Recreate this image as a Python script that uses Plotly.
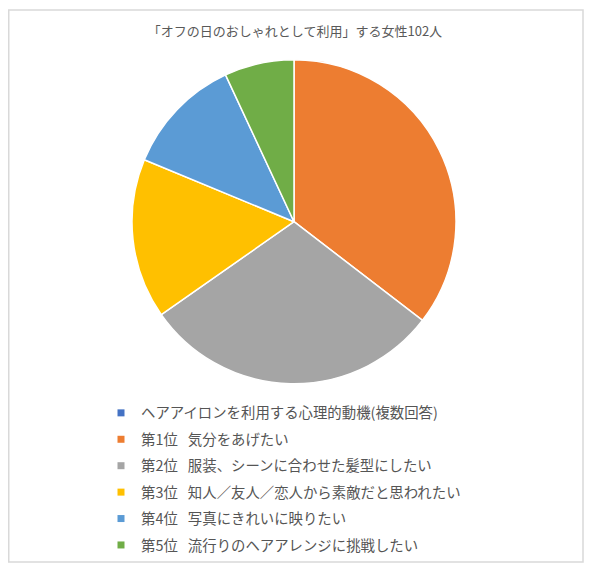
import plotly.graph_objects as go

# 凡例の並び (先頭は系列名で値ゼロ)
sp = "\u2002\u2009"
labels = [
    "ヘアアイロンを利用する心理的動機(複数回答)",
    "第1位" + sp + "気分をあげたい",
    "第2位" + sp + "服装、シーンに合わせた髪型にしたい",
    "第3位" + sp + "知人／友人／恋人から素敵だと思われたい",
    "第4位" + sp + "写真にきれいに映りたい",
    "第5位" + sp + "流行りのヘアアレンジに挑戦したい",
]
counts = [0, 51, 43, 23, 17, 10]
colors = ["#4472C4", "#ED7D31", "#A5A5A5", "#FFC000", "#5B9BD5", "#70AD47"]

title_text = "「オフの日のおしゃれとして利用」する女性102人"

W, H = 600, 572

fig = go.Figure()
fig.add_trace(go.Pie(
    labels=labels,
    values=counts,
    sort=False,
    direction="clockwise",
    rotation=0,
    marker=dict(colors=colors, line=dict(color="white", width=1.5)),
    textinfo="none",
    hoverinfo="label+value",
    showlegend=False,
    domain=dict(x=[124 / W, 448 / W], y=[1 - 375.7 / H, 1 - 51.7 / H]),
))

# 凡例だけ (行間を広げるため項目ごとにグループ分け)
for lab, col in zip(labels, colors):
    fig.add_trace(go.Scatter(
        x=[None], y=[None], mode="markers", name=lab, legendgroup=lab,
        marker=dict(symbol="square", size=7, color=col),
        hoverinfo="skip",
    ))

fig.update_layout(
    width=W, height=H,
    margin=dict(l=0, r=0, t=0, b=0),
    paper_bgcolor="white",
    plot_bgcolor="white",
    xaxis=dict(visible=False),
    yaxis=dict(visible=False),
    font=dict(family="Noto Sans CJK JP", color="#595959"),
    title=dict(text=title_text, x=287 / W, xanchor="center", y=1 - 23.7 / H, yanchor="middle",
               font=dict(size=13, color="#595959")),
    legend=dict(x=93 / W, y=1 - 389 / H, xanchor="left", yanchor="top",
                traceorder="grouped", tracegroupgap=4.7,
                font=dict(size=14.4, color="#555555"), bgcolor="rgba(0,0,0,0)"),
    shapes=[dict(type="rect", xref="paper", yref="paper",
                 x0=0.75 / W, x1=575 / W, y0=1 - 554 / H, y1=1 - 2 / H,
                 line=dict(color="#D9D9D9", width=1.5))],
)

fig.write_html("out.html")
